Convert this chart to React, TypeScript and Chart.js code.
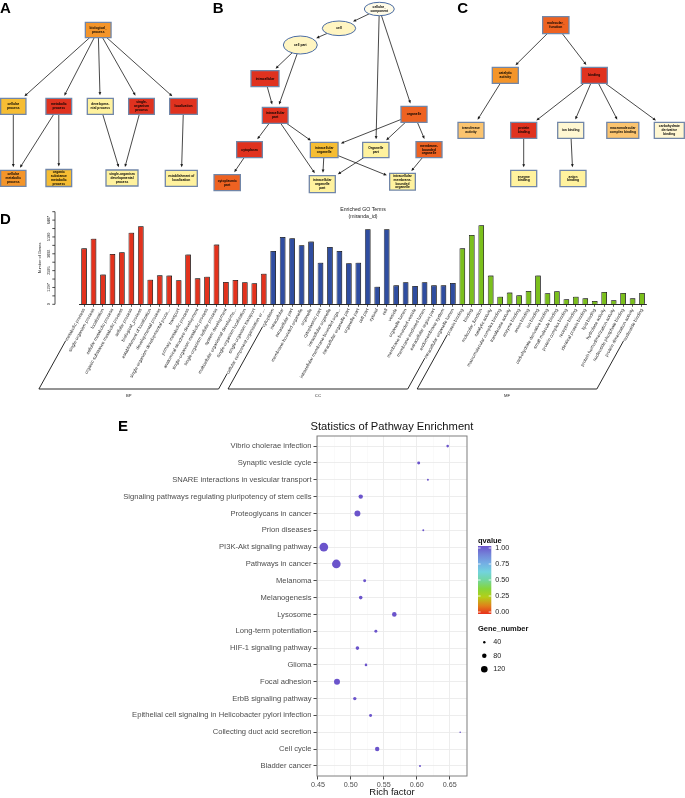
import React, { useEffect, useRef } from 'react';
import { Chart, registerables } from 'chart.js';

Chart.register(...registerables);

const FONT = '"Liberation Sans", Arial, Helvetica, sans-serif';

// ================= Panels A–C : GO DAGs =================
const nodeLabels = [
  'biological_\nprocess', 'cellular\nprocess', 'metabolic\nprocess', 'developme-\nntal process', 'single-\norganism\nprocess',
  'localization', 'cellular\nmetabolic\nprocess', 'organic\nsubstance\nmetabolic\nprocess', 'single-organism\ndevelopmental\nprocess', 'establishment of\nlocalization',
  'cellular_\ncomponent', 'cell', 'cell part', 'intracellular', 'intracellular\npart', 'organelle', 'cytoplasm',
  'intracellular\norganelle', 'Organelle\npart', 'membrane-\nbounded\norganelle', 'cytoplasmic\npart', 'intracellular\norganelle\npart',
  'intracellular\nmembrane-\nbounded\norganelle',
  'molecular_\nfunction', 'catalytic\nactivity', 'binding', 'transferase\nactivity', 'protein\nbinding', 'ion binding',
  'macromolecular\ncomplex binding', 'carbohydrate\nderivative\nbinding', 'enzyme\nbinding', 'anion\nbinding',
];
const nodeX = [98.2, 13.3, 58.8, 100.3, 141.5, 183.5, 13.3, 58.8, 122, 181.3,
  379.3, 339, 300.3, 265, 275.2, 414, 249.5, 324.2, 375.8, 429, 227.2, 322.3, 402.5,
  555.8, 505.3, 594.3, 471, 523.7, 570.7, 622.8, 669.3, 523.7, 573];
const nodeY = [30, 106.3, 106.3, 106.3, 106.3, 106.3, 178.3, 178, 178, 178.3,
  9, 28.3, 45, 78.7, 115.3, 114.3, 149.7, 150, 150, 149.7, 182.7, 184.2, 181.7,
  25.2, 75.3, 75.3, 130.3, 130.3, 130.3, 130.3, 130.3, 178.5, 178.5];
const nodeW = [25.7, 25.3, 25.7, 26, 25.7, 27.7, 25.3, 25.7, 32, 32,
  30, 33.4, 34, 28, 25.7, 26, 25.7, 27.7, 26.3, 26, 26.3, 26, 25.7,
  26.3, 26, 26, 26, 26, 26, 32, 30, 26, 26];
const nodeH = [15.3, 16, 16, 16, 16, 16, 16, 17, 16, 16,
  13.4, 14.6, 18, 16, 16, 16, 16, 15.3, 15.3, 16, 16, 17, 16.7,
  17, 16, 16, 16, 16, 16, 16, 16, 16.3, 16.3];
const nodeShape = ['box', 'box', 'box', 'box', 'box', 'box', 'box', 'box', 'box', 'box',
  'ellipse', 'ellipse', 'ellipse', 'box', 'box', 'box', 'box', 'box', 'box', 'box', 'box', 'box', 'box',
  'box', 'box', 'box', 'box', 'box', 'box', 'box', 'box', 'box', 'box'];
const RED = '#E0321F', ORED = '#EE6221', ORANGE = '#F4952A', GOLD = '#F6BD33',
  LORANGE = '#FBC46F', PALE = '#FFF29E', CREAM = '#FFF7D2', ELL = '#FFF5C2', ELL0 = '#FFFBE8';
const nodeFill = [ORANGE, GOLD, RED, PALE, RED, RED, ORANGE, GOLD, PALE, PALE,
  ELL0, ELL, ELL, RED, RED, ORED, RED, GOLD, PALE, ORED, ORED, PALE, PALE,
  ORED, ORANGE, RED, LORANGE, RED, CREAM, LORANGE, CREAM, PALE, PALE];
const edgeFrom = [0, 0, 0, 0, 0, 1, 2, 2, 3, 4, 5,
  10, 11, 10, 10, 12, 12, 13, 14, 14, 14, 15, 15, 15, 16, 17, 17, 18, 19,
  23, 23, 24, 25, 25, 25, 25, 27, 28];
const edgeTo = [1, 2, 3, 4, 5, 6, 6, 7, 8, 8, 9,
  11, 12, 18, 15, 13, 14, 14, 16, 17, 21, 17, 18, 19, 20, 21, 22, 21, 22,
  24, 25, 26, 27, 28, 29, 30, 31, 32];

// ================= Panel D : GO bar chart =================
const bpTerms = ['metabolic process', 'single-organism process', 'localization', 'cellular metabolic process',
  'organic substance metabolic process', 'cellular process', 'biological_process', 'establishment of localization',
  'developmental process', 'single-organism developmental proce...', 'transport', 'primary metabolic process',
  'anatomical structure development', 'single-organism metabolic process', 'single-organism cellular process',
  'system development', 'multicellular organismal developme...', 'single-organism localization',
  'single-organism transport', 'cellular component organization or ...'];
const bpCounts = [4310, 5060, 2290, 3880, 4010, 5520, 6010, 1900, 2230, 2210, 1850, 3830, 2000, 2130, 4600, 1720, 1870, 1700, 1620, 2360];
const ccTerms = ['cytoplasm', 'intracellular', 'intracellular part', 'membrane-bounded organelle', 'organelle',
  'cytoplasmic part', 'intracellular organelle', 'intracellular membrane-bounded orga...', 'intracellular organelle part',
  'organelle part', 'cell part', 'cytosol', 'cell', 'vesicle', 'organelle lumen', 'membrane-bounded vesicle',
  'membrane-enclosed lumen', 'extracellular region part', 'endomembrane system', 'intracellular organelle lumen'];
const ccCounts = [4110, 5190, 5090, 4550, 4830, 3210, 4420, 4110, 3160, 3210, 5780, 1360, 5780, 1460, 1700, 1410, 1700, 1460, 1460, 1640];
const mfTerms = ['protein binding', 'binding', 'molecular_function', 'catalytic activity', 'macromolecular complex binding',
  'transferase activity', 'enzyme binding', 'anion binding', 'ion binding', 'carbohydrate derivative binding',
  'small molecule binding', 'protein complex binding', 'receptor binding', 'identical protein binding', 'lipid binding',
  'hydrolase activity', 'protein homodimerization activity', 'nucleoside phosphate binding',
  'protein dimerization activity', 'nucleotide binding'];
const mfCounts = [4310, 5340, 6090, 2210, 590, 900, 690, 1030, 2210, 850, 1000, 390, 590, 460, 260, 950, 310, 870, 460, 870];
const goGroups = ['BP', 'CC', 'MF'];
const goGroupColors = ['#E3321D', '#2F4DA0', '#7BC01C'];
const goYTicks = [0, 1297, 2595, 3892, 5190, 6487];
const goYTickLabels = ['0', '1297', '2595', '3892', '5190', '6487'];
const goYMinorTicks = [649, 1946, 3243, 4541, 5838, 7136];
const goYMax = 7136;

// ================= Panel E : KEGG bubble chart =================
const pathways = ['Vibrio cholerae infection', 'Synaptic vesicle cycle', 'SNARE interactions in vesicular transport',
  'Signaling pathways regulating pluripotency of stem cells', 'Proteoglycans in cancer', 'Prion diseases',
  'PI3K-Akt signaling pathway', 'Pathways in cancer', 'Melanoma', 'Melanogenesis', 'Lysosome',
  'Long-term potentiation', 'HIF-1 signaling pathway', 'Glioma', 'Focal adhesion', 'ErbB signaling pathway',
  'Epithelial cell signaling in Helicobacter pylori infection', 'Collecting duct acid secretion', 'Cell cycle', 'Bladder cancer'];
const richFactor = [0.647, 0.603, 0.617, 0.515, 0.510, 0.610, 0.459, 0.478, 0.521, 0.515, 0.566, 0.538, 0.510, 0.523,
  0.479, 0.506, 0.530, 0.666, 0.540, 0.605];
const geneNumber = [44, 51, 32, 78, 108, 32, 160, 158, 51, 63, 82, 51, 63, 44, 108, 59, 51, 25, 78, 32];
const qvalue = [1, 1, 1, 1, 1, 1, 1, 1, 1, 1, 1, 1, 1, 1, 1, 1, 1, 1, 1, 1];
const xMajorTicks = [0.45, 0.5, 0.55, 0.6, 0.65];
const xMajorLabels = ['0.45', '0.50', '0.55', '0.60', '0.65'];
const xMinorTicks = [0.475, 0.525, 0.575, 0.625, 0.675];
const qLegendValues = [1, 0.75, 0.5, 0.25, 0];
const qLegendLabels = ['1.00', '0.75', '0.50', '0.25', '0.00'];
const geneLegendValues = [40, 80, 120];
const qStops: [number, string][] = [[0, '#E8301C'], [0.12, '#E0801A'], [0.25, '#B4CF18'], [0.37, '#86D53A'],
  [0.5, '#72D6A0'], [0.62, '#72D3DE'], [0.75, '#74ADE4'], [0.88, '#7383D8'], [1, '#6B54CB']];

const geneRadius = (g: number) => 0.15 + 0.02625 * g;
const hex = (h: string) => [1, 3, 5].map((i) => parseInt(h.slice(i, i + 2), 16));
function qColor(q: number) {
  for (let i = 1; i < qStops.length; i++) {
    const [p1, c1] = qStops[i];
    const [p0, c0] = qStops[i - 1];
    if (q <= p1) {
      const t = (q - p0) / (p1 - p0);
      const a = hex(c0), b = hex(c1);
      return `rgb(${a.map((v, k) => Math.round(v + (b[k] - v) * t)).join(',')})`;
    }
  }
  return qStops[qStops.length - 1][1];
}

const dagPlugin = {
  id: 'dag',
  afterDatasetsDraw(chart: any) {
    const ctx = chart.ctx;
    const xs = chart.scales.x, ys = chart.scales.y;
    const meta = chart.getDatasetMeta(0);
    const pts = meta.data.map((el: any, i: number) => ({
      x: el.x, y: el.y, shape: nodeShape[i],
      hw: Math.abs(xs.getPixelForValue(nodeX[i] + nodeW[i] / 2) - xs.getPixelForValue(nodeX[i] - nodeW[i] / 2)) / 2,
      hh: Math.abs(ys.getPixelForValue(nodeY[i] + nodeH[i] / 2) - ys.getPixelForValue(nodeY[i] - nodeH[i] / 2)) / 2,
    }));
    const exitT = (p: any, dx: number, dy: number) => {
      if (p.shape === 'ellipse') return 1 / Math.sqrt((dx / p.hw) ** 2 + (dy / p.hh) ** 2);
      const tx = dx === 0 ? Infinity : p.hw / Math.abs(dx);
      const ty = dy === 0 ? Infinity : p.hh / Math.abs(dy);
      return Math.min(tx, ty);
    };
    ctx.save();
    ctx.strokeStyle = '#1a1a1a';
    ctx.fillStyle = '#1a1a1a';
    ctx.lineWidth = 0.8;
    edgeFrom.forEach((f, k) => {
      const a = pts[f], b = pts[edgeTo[k]];
      const dx = b.x - a.x, dy = b.y - a.y;
      const len = Math.hypot(dx, dy);
      const ux = dx / len, uy = dy / len;
      const t0 = exitT(a, dx, dy);
      const t1 = 1 - exitT(b, dx, dy) - 3 / len;
      const sx = a.x + dx * t0, sy = a.y + dy * t0;
      const ex = a.x + dx * t1, ey = a.y + dy * t1;
      const ah = 3.2, aw = 1.4;
      ctx.beginPath();
      ctx.moveTo(sx, sy);
      ctx.lineTo(ex - ux * ah * 0.7, ey - uy * ah * 0.7);
      ctx.stroke();
      ctx.beginPath();
      ctx.moveTo(ex, ey);
      ctx.lineTo(ex - ux * ah - uy * aw, ey - uy * ah + ux * aw);
      ctx.lineTo(ex - ux * ah + uy * aw, ey - uy * ah - ux * aw);
      ctx.closePath();
      ctx.fill();
    });
    pts.forEach((p: any, i: number) => {
      ctx.beginPath();
      if (p.shape === 'ellipse') ctx.ellipse(p.x, p.y, p.hw, p.hh, 0, 0, Math.PI * 2);
      else ctx.rect(p.x - p.hw, p.y - p.hh, p.hw * 2, p.hh * 2);
      ctx.fillStyle = nodeFill[i];
      ctx.fill();
      ctx.strokeStyle = p.shape === 'ellipse' ? '#4B6CA3' : '#7186A8';
      ctx.lineWidth = p.shape === 'ellipse' ? 1 : 1.3;
      ctx.stroke();
      const lines = nodeLabels[i].split('\n');
      ctx.fillStyle = '#000';
      ctx.font = `bold 3.3px ${FONT}`;
      ctx.textAlign = 'center';
      ctx.textBaseline = 'middle';
      const lh = 3.8;
      lines.forEach((ln, j) => ctx.fillText(ln, p.x, p.y + (j - (lines.length - 1) / 2) * lh));
    });
    ctx.restore();
  },
};

const LABEL_ANGLE = 61;
const goPlugin = {
  id: 'goDecor',
  beforeDatasetsDraw(chart: any) {
    const ctx = chart.ctx;
    ctx.save();
    ctx.shadowColor = 'rgba(0,0,0,0.35)';
    ctx.shadowOffsetX = 1.3;
    ctx.shadowOffsetY = -1;
    ctx.shadowBlur = 0;
  },
  afterDatasetsDraw(chart: any) {
    chart.ctx.restore();
  },
  afterDraw(chart: any) {
    const { ctx, chartArea: ca } = chart;
    const x = chart.scales.x, y = chart.scales.y;
    ctx.save();
    // offset y axis
    const axX = ca.left - 24.3;
    ctx.strokeStyle = '#222';
    ctx.lineWidth = 0.8;
    ctx.beginPath();
    ctx.moveTo(axX, y.getPixelForValue(0));
    ctx.lineTo(axX, y.getPixelForValue(goYMax));
    ctx.stroke();
    [...goYTicks, ...goYMinorTicks].forEach((v) => {
      const py = y.getPixelForValue(v);
      ctx.beginPath();
      ctx.moveTo(axX - 2.7, py);
      ctx.lineTo(axX, py);
      ctx.stroke();
    });
    ctx.fillStyle = '#222';
    ctx.textAlign = 'center';
    ctx.textBaseline = 'middle';
    ctx.font = `3.8px ${FONT}`;
    goYTicks.forEach((v, i) => {
      ctx.save();
      ctx.translate(axX - 6, y.getPixelForValue(v));
      ctx.rotate(-Math.PI / 2);
      ctx.fillText(goYTickLabels[i], 0, 0);
      ctx.restore();
    });
    ctx.save();
    ctx.translate(axX - 15, (y.getPixelForValue(0) + y.getPixelForValue(goYMax)) / 2);
    ctx.rotate(-Math.PI / 2);
    ctx.font = `3.9px ${FONT}`;
    ctx.fillText('Number of Genes', 0, 0);
    ctx.restore();
    // title
    ctx.font = `5.2px ${FONT}`;
    const cx = (ca.left + ca.right) / 2;
    ctx.fillText('Enriched GO Terms', cx, 9.3);
    ctx.fillText('(miranda_id)', cx, 16.7);
    // group brackets
    const th = (LABEL_ANGLE * Math.PI) / 180;
    const startY = ca.bottom + 3.3;
    const bottomY = 189;
    ctx.font = `4.5px ${FONT}`;
    ctx.lineWidth = 0.9;
    ctx.strokeStyle = '#111';
    goGroups.forEach((g, gi) => {
      const i0 = gi * 20, i1 = gi * 20 + 19;
      const ends = [i0, i1].map((i) => {
        const px = x.getPixelForValue(i);
        const w = ctx.measureText(x.getLabelForValue(i)).width + 1.5;
        const lx = px - w * Math.cos(th), ly = startY + w * Math.sin(th);
        const cxr = px - (bottomY - startY) / Math.tan(th);
        return { lx, ly, cx: cxr };
      });
      ctx.beginPath();
      ctx.moveTo(ends[0].lx, ends[0].ly);
      ctx.lineTo(ends[0].cx, bottomY);
      ctx.lineTo(ends[1].cx, bottomY);
      ctx.lineTo(ends[1].lx, ends[1].ly);
      ctx.stroke();
      ctx.font = `4.2px ${FONT}`;
      ctx.fillText(g, (ends[0].cx + ends[1].cx) / 2, bottomY + 7);
      ctx.font = `4.5px ${FONT}`;
    });
    ctx.restore();
  },
};

const keggPlugin = {
  id: 'keggDecor',
  afterDatasetsDraw(chart: any) {
    const { ctx, chartArea: ca } = chart;
    ctx.save();
    ctx.strokeStyle = '#7f7f7f';
    ctx.lineWidth = 1;
    ctx.strokeRect(ca.left, ca.top, ca.right - ca.left, ca.bottom - ca.top);
    ctx.restore();
  },
  afterDraw(chart: any) {
    const { ctx, chartArea: ca } = chart;
    ctx.save();
    ctx.fillStyle = '#111';
    ctx.textAlign = 'center';
    ctx.textBaseline = 'middle';
    ctx.font = `11.2px ${FONT}`;
    ctx.fillText('Statistics of Pathway Enrichment', (ca.left + ca.right) / 2, 27);
    // qvalue colourbar
    const L = ca.right + 11;
    ctx.textAlign = 'left';
    ctx.font = `bold 7.5px ${FONT}`;
    ctx.fillText('qvalue', L, ca.top + 104.7);
    const bTop = ca.top + 110, bBot = ca.top + 178, bW = 13.3;
    const grad = ctx.createLinearGradient(0, bBot, 0, bTop);
    qStops.forEach(([p, c]) => grad.addColorStop(p, c));
    ctx.fillStyle = grad;
    ctx.fillRect(L, bTop, bW, bBot - bTop);
    ctx.font = `7.2px ${FONT}`;
    qLegendValues.forEach((v, i) => {
      const py = bBot - 2 - v * (bBot - bTop - 4);
      ctx.strokeStyle = '#fff';
      ctx.lineWidth = 0.8;
      ctx.beginPath();
      ctx.moveTo(L, py); ctx.lineTo(L + 2.6, py);
      ctx.moveTo(L + bW - 2.6, py); ctx.lineTo(L + bW, py);
      ctx.stroke();
      ctx.fillStyle = '#1a1a1a';
      ctx.fillText(qLegendLabels[i], L + 17.3, py);
    });
    // gene number legend
    ctx.font = `bold 7.5px ${FONT}`;
    ctx.fillStyle = '#111';
    ctx.fillText('Gene_number', L, ca.top + 193.3);
    ctx.font = `7.2px ${FONT}`;
    geneLegendValues.forEach((g, i) => {
      const py = ca.top + 206.3 + i * 13.5;
      ctx.fillStyle = '#000';
      ctx.beginPath();
      ctx.arc(L + 6.3, py, geneRadius(g), 0, Math.PI * 2);
      ctx.fill();
      ctx.fillStyle = '#1a1a1a';
      ctx.fillText(String(g), L + 15.3, py);
    });
    ctx.restore();
  },
};

export default function App() {
  const dagRef = useRef<HTMLCanvasElement>(null);
  const goRef = useRef<HTMLCanvasElement>(null);
  const keggRef = useRef<HTMLCanvasElement>(null);

  useEffect(() => {
    const charts: Chart[] = [];
    Chart.defaults.font.family = FONT;

    charts.push(new Chart(dagRef.current as HTMLCanvasElement, {
      type: 'scatter',
      data: { datasets: [{ data: nodeX.map((v, i) => ({ x: v, y: nodeY[i] })), pointRadius: 0 }] },
      options: {
        responsive: false, animation: false, devicePixelRatio: 1, events: [],
        layout: { padding: 0 },
        plugins: { legend: { display: false }, tooltip: { enabled: false } },
        scales: {
          x: { type: 'linear', display: false, min: 0, max: 685 },
          y: { type: 'linear', display: false, min: 0, max: 200, reverse: true },
        },
      },
      plugins: [dagPlugin],
    } as any));

    const allTerms = [...bpTerms, ...ccTerms, ...mfTerms];
    const allCounts = [...bpCounts, ...ccCounts, ...mfCounts];
    const barColors = [
      ...bpCounts.map(() => goGroupColors[0]),
      ...ccCounts.map(() => goGroupColors[1]),
      ...mfCounts.map(() => goGroupColors[2]),
    ];
    charts.push(new Chart(goRef.current as HTMLCanvasElement, {
      type: 'bar',
      data: {
        labels: allTerms,
        datasets: [{
          data: allCounts, backgroundColor: barColors, borderColor: '#1a1a1a', borderWidth: 0.8,
          barPercentage: 0.6, categoryPercentage: 1,
        }],
      },
      options: {
        responsive: false, animation: false, devicePixelRatio: 1, events: [],
        layout: { padding: { left: 79.3, right: 38.3, top: 11.7, bottom: 0 } },
        plugins: { legend: { display: false }, tooltip: { enabled: false } },
        scales: {
          x: {
            type: 'category',
            afterFit: (s: any) => { s.height = 95.7; },
            grid: { display: true, drawOnChartArea: false, drawTicks: true, tickLength: 2.5, color: '#111', lineWidth: 0.7, offset: false },
            border: { display: true, color: '#111', width: 0.9 },
            ticks: { autoSkip: false, minRotation: LABEL_ANGLE, maxRotation: LABEL_ANGLE, padding: 0.8, color: '#222', font: { size: 4.5, family: FONT } },
          },
          y: { type: 'linear', display: false, min: 0, max: goYMax },
        },
      },
      plugins: [goPlugin],
    } as any));

    const xs = richFactor;
    const span = Math.max(...xs) - Math.min(...xs);
    const xMin = Math.min(...xs) - 0.05 * span;
    const xMax = Math.max(...xs) + 0.05 * span;
    const xTickObjs = [
      ...xMajorTicks.map((v) => ({ value: v, major: true })),
      ...xMinorTicks.filter((v) => v <= xMax && v >= xMin).map((v) => ({ value: v, major: false })),
    ].sort((a, b) => a.value - b.value);

    charts.push(new Chart(keggRef.current as HTMLCanvasElement, {
      type: 'bubble',
      data: {
        datasets: [{
          data: richFactor.map((v, i) => ({ x: v, y: i, r: geneRadius(geneNumber[i]) })),
          backgroundColor: qvalue.map(qColor),
          borderWidth: 0,
        }],
      },
      options: {
        responsive: false, animation: false, devicePixelRatio: 1, events: [],
        layout: { padding: { left: 0, right: 218, top: 36, bottom: 0 } },
        plugins: { legend: { display: false }, tooltip: { enabled: false } },
        scales: {
          x: {
            type: 'linear', min: xMin, max: xMax,
            afterBuildTicks: (s: any) => { s.ticks = xTickObjs.map((t) => ({ ...t })); },
            afterFit: (s: any) => { s.height = 22; },
            grid: {
              color: (c: any) => (c.tick && c.tick.major ? '#EBEBEB' : '#F4F4F4'),
              lineWidth: (c: any) => (c.tick && c.tick.major ? 0.9 : 0.5),
              tickColor: (c: any) => (c.tick && c.tick.major ? '#333' : 'rgba(0,0,0,0)'),
              tickLength: 3.5, tickWidth: 0.9,
            },
            border: { display: false },
            ticks: {
              autoSkip: false, maxRotation: 0, padding: 1, color: '#4D4D4D', font: { size: 7.2, family: FONT },
              callback: (v: number) => {
                const k = xMajorTicks.findIndex((t) => Math.abs(t - v) < 1e-9);
                return k >= 0 ? xMajorLabels[k] : '';
              },
            },
            title: { display: true, text: 'Rich factor', color: '#111', font: { size: 9.5, family: FONT }, padding: { top: 0, bottom: 0 } },
          },
          y: {
            type: 'linear', min: -0.6, max: pathways.length - 0.4, reverse: true,
            afterBuildTicks: (s: any) => { s.ticks = pathways.map((_, i) => ({ value: i })); },
            afterFit: (s: any) => { s.width = 317; },
            grid: { color: '#EBEBEB', lineWidth: 0.9, tickColor: '#333', tickLength: 3.5, tickWidth: 0.9 },
            border: { display: false },
            ticks: {
              autoSkip: false, padding: 2, color: '#4D4D4D', font: { size: 7.6, family: FONT },
              callback: (v: number) => pathways[v],
            },
          },
        },
      },
      plugins: [keggPlugin],
    } as any));

    return () => charts.forEach((c) => c.destroy());
  }, []);

  const letterStyle = (left: number, top: number): React.CSSProperties => ({
    position: 'absolute', left, top, font: `bold 15px ${FONT}`, lineHeight: '15px', color: '#000',
  });

  return (
    <div style={{ position: 'absolute', left: 0, top: 0, width: 685, height: 798, background: '#fff', overflow: 'hidden' }}>
      <canvas ref={dagRef} width={685} height={200} style={{ position: 'absolute', left: 0, top: 0, width: 685, height: 200 }} />
      <canvas ref={goRef} width={685} height={200} style={{ position: 'absolute', left: 0, top: 200, width: 685, height: 200 }} />
      <canvas ref={keggRef} width={685} height={398} style={{ position: 'absolute', left: 0, top: 400, width: 685, height: 398 }} />
      <div style={letterStyle(0, 0)}>A</div>
      <div style={letterStyle(212.7, 0)}>B</div>
      <div style={letterStyle(457.3, 0)}>C</div>
      <div style={letterStyle(0, 211.3)}>D</div>
      <div style={letterStyle(118, 418)}>E</div>
    </div>
  );
}
